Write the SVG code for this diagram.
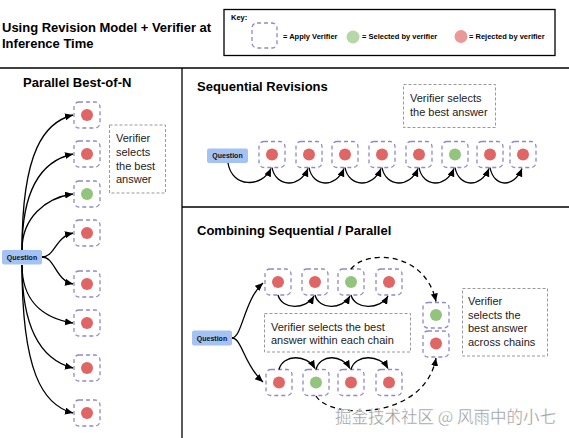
<svg xmlns="http://www.w3.org/2000/svg" width="569" height="438" viewBox="0 0 569 438">
<defs>
<marker id="ah" markerUnits="userSpaceOnUse" markerWidth="9" markerHeight="8" refX="8" refY="3.5" orient="auto">
<path d="M0,0 L8,3.5 L0,7 Z" fill="#000"/>
</marker>
<style>
.t{font-family:"Liberation Sans",Arial,sans-serif;fill:#000}
.h{font-size:13px;font-weight:bold}
.k{font-size:7.5px;font-weight:bold}
.n{font-size:11px;fill:#222}
.q{font-size:7px;font-weight:bold;fill:#111}
.vb{fill:none;stroke:#8f89c7;stroke-width:1.3;stroke-dasharray:4 3}
.note{fill:none;stroke:#999;stroke-width:1;stroke-dasharray:3 2}
.qb{fill:#a4c2f4}
.r{fill:#e06666}
.g{fill:#93c47d}
.sep{stroke:#000;stroke-width:1.3}
.c{fill:none;stroke:#000;stroke-width:1.3;marker-end:url(#ah)}
.d{fill:none;stroke:#000;stroke-width:1.3;stroke-dasharray:5 4;marker-end:url(#ah)}
</style>
</defs>
<rect width="569" height="438" fill="#fff"/>

<g id="title">
<text class="t h" x="2" y="31.5">Using Revision Model + Verifier at</text>
<text class="t h" x="2" y="47.5">Inference Time</text>
</g>

<g id="key">
<rect x="224" y="9.5" width="331" height="46" fill="none" stroke="#000" stroke-width="1.3"/>
<text class="t k" x="231" y="20">Key:</text>
<rect class="vb" x="252" y="23" width="25" height="25" rx="5"/>
<text class="t k" x="283" y="39">= Apply Verifier</text>
<circle cx="353" cy="37" r="6.5" fill="#b6d7a8"/>
<text class="t k" x="362" y="39">= Selected by verifier</text>
<circle cx="461" cy="36.5" r="6.5" fill="#ea9999"/>
<text class="t k" x="469" y="39">= Rejected by verifier</text>
</g>

<g id="separators">
<line class="sep" x1="0" y1="68" x2="569" y2="68"/>
<line class="sep" x1="182" y1="68" x2="182" y2="438"/>
<line class="sep" x1="182" y1="207" x2="569" y2="207"/>
</g>

<g id="parallel">
<text class="t h" x="23" y="87">Parallel Best-of-N</text>
<g id="p-question"><rect class="qb" x="2" y="250" width="40" height="14.5" rx="2"/><text class="t q" x="22" y="259.8" text-anchor="middle">Question</text></g>
<g id="p1"><rect class="vb" x="74" y="102" width="26" height="26" rx="5"/><circle class="r" cx="87" cy="115" r="6"/></g>
<g id="p2"><rect class="vb" x="74" y="141" width="26" height="26" rx="5"/><circle class="r" cx="87" cy="154" r="6"/></g>
<g id="p3"><rect class="vb" x="74" y="181" width="26" height="26" rx="5"/><circle class="g" cx="87" cy="194" r="6"/></g>
<g id="p4"><rect class="vb" x="74" y="220" width="26" height="26" rx="5"/><circle class="r" cx="87" cy="233" r="6"/></g>
<g id="p5"><rect class="vb" x="74" y="271" width="26" height="26" rx="5"/><circle class="r" cx="87" cy="284" r="6"/></g>
<g id="p6"><rect class="vb" x="74" y="310" width="26" height="26" rx="5"/><circle class="r" cx="87" cy="323" r="6"/></g>
<g id="p7"><rect class="vb" x="74" y="355" width="26" height="26" rx="5"/><circle class="r" cx="87" cy="368" r="6"/></g>
<g id="p8"><rect class="vb" x="74" y="400" width="26" height="26" rx="5"/><circle class="r" cx="87" cy="413" r="6"/></g>
<g id="p-note">
<rect class="note" x="109.5" y="125" width="56" height="68"/>
<text class="t n" x="116" y="142">Verifier</text>
<text class="t n" x="116" y="156">selects</text>
<text class="t n" x="116" y="170">the best</text>
<text class="t n" x="116" y="183">answer</text>
</g>
</g>

<g id="sequential">
<text class="t h" x="197" y="91">Sequential Revisions</text>
<g id="s-question"><rect class="qb" x="207" y="148.5" width="41" height="14.5" rx="2"/><text class="t q" x="227.5" y="158.3" text-anchor="middle">Question</text></g>
<g id="s1"><rect class="vb" x="259" y="141.5" width="26" height="26" rx="5"/><circle class="r" cx="272" cy="154.5" r="6"/></g>
<g id="s2"><rect class="vb" x="296" y="141.5" width="26" height="26" rx="5"/><circle class="r" cx="309" cy="154.5" r="6"/></g>
<g id="s3"><rect class="vb" x="332" y="141.5" width="26" height="26" rx="5"/><circle class="r" cx="345" cy="154.5" r="6"/></g>
<g id="s4"><rect class="vb" x="369" y="141.5" width="26" height="26" rx="5"/><circle class="r" cx="382" cy="154.5" r="6"/></g>
<g id="s5"><rect class="vb" x="406" y="141.5" width="26" height="26" rx="5"/><circle class="r" cx="419" cy="154.5" r="6"/></g>
<g id="s6"><rect class="vb" x="442" y="141.5" width="26" height="26" rx="5"/><circle class="g" cx="455" cy="154.5" r="6"/></g>
<g id="s7"><rect class="vb" x="477" y="141.5" width="26" height="26" rx="5"/><circle class="r" cx="490" cy="154.5" r="6"/></g>
<g id="s8"><rect class="vb" x="510" y="141.5" width="26" height="26" rx="5"/><circle class="r" cx="523" cy="154.5" r="6"/></g>
<g id="s-note">
<rect class="note" x="403.5" y="84.5" width="92" height="43"/>
<text class="t n" x="410" y="102">Verifier selects</text>
<text class="t n" x="410" y="116">the best answer</text>
</g>
</g>

<g id="combining">
<text class="t h" x="197" y="235">Combining Sequential / Parallel</text>
<g id="c-question"><rect class="qb" x="192" y="330.5" width="40" height="15" rx="2"/><text class="t q" x="212" y="340.5" text-anchor="middle">Question</text></g>
<g id="a1"><rect class="vb" x="265" y="269" width="26" height="26" rx="5"/><circle class="r" cx="278" cy="282" r="6"/></g>
<g id="a2"><rect class="vb" x="302" y="269" width="26" height="26" rx="5"/><circle class="r" cx="315" cy="282" r="6"/></g>
<g id="a3"><rect class="vb" x="338" y="269" width="26" height="26" rx="5"/><circle class="g" cx="351" cy="282" r="6"/></g>
<g id="a4"><rect class="vb" x="376" y="269" width="26" height="26" rx="5"/><circle class="r" cx="389" cy="282" r="6"/></g>
<g id="b1"><rect class="vb" x="266" y="369.5" width="26" height="26" rx="5"/><circle class="r" cx="279" cy="382.5" r="6"/></g>
<g id="b2"><rect class="vb" x="303" y="369.5" width="26" height="26" rx="5"/><circle class="g" cx="316" cy="382.5" r="6"/></g>
<g id="b3"><rect class="vb" x="338" y="369.5" width="26" height="26" rx="5"/><circle class="r" cx="351" cy="382.5" r="6"/></g>
<g id="b4"><rect class="vb" x="376" y="369.5" width="26" height="26" rx="5"/><circle class="r" cx="389" cy="382.5" r="6"/></g>
<g id="m1"><rect class="vb" x="423" y="302.5" width="26" height="25.5" rx="5"/><circle class="g" cx="436" cy="315" r="6"/></g>
<g id="m2"><rect class="vb" x="423" y="331" width="26" height="26" rx="5"/><circle class="r" cx="436" cy="343.5" r="6"/></g>
<g id="c-note1">
<rect class="note" x="264.5" y="313.5" width="146" height="38.5"/>
<text class="t n" x="271" y="331">Verifier selects the best</text>
<text class="t n" x="271" y="344">answer within each chain</text>
</g>
<g id="c-note2">
<rect class="note" x="462.5" y="288.5" width="85" height="67.5"/>
<text class="t n" x="468" y="305">Verifier</text>
<text class="t n" x="468" y="319">selects the</text>
<text class="t n" x="468" y="332">best answer</text>
<text class="t n" x="468" y="346">across chains</text>
</g>
</g>

<g id="connectors">
<path class="c" d="M22,250 C22,150 45,122 73,115"/>
<path class="c" d="M22,250 C22,185 45,160 73,154"/>
<path class="c" d="M22,250 C22,218 45,198 73,194"/>
<path class="c" d="M42,257 C55,257 55,237 73,233"/>
<path class="c" d="M42,257 C55,257 55,280 73,284"/>
<path class="c" d="M22,265 C22,300 42,318 73,323"/>
<path class="c" d="M22,265 C22,330 42,360 73,368"/>
<path class="c" d="M22,265 C22,370 42,405 73,413"/>

<path class="c" d="M228,163 C232,188 262,188 271,168.5"/>
<path class="c" d="M272,167.5 C276,188 300,188 308,168.5"/>
<path class="c" d="M309,167.5 C313,188 336,188 344,168.5"/>
<path class="c" d="M345,167.5 C349,188 373,188 381,168.5"/>
<path class="c" d="M382,167.5 C386,188 410,188 418,168.5"/>
<path class="c" d="M419,167.5 C423,188 446,188 454,168.5"/>
<path class="c" d="M455,167.5 C459,188 481,188 489,168.5"/>
<path class="c" d="M490,167.5 C494,188 514,188 522,168.5"/>

<path class="c" d="M232,338 C242,338 244,300 263,283"/>
<path class="c" d="M232,338 C242,338 244,365 263,382"/>
<path class="c" d="M278,295 C282,310 306,310 314,296"/>
<path class="c" d="M315,295 C319,310 342,310 350,296"/>
<path class="c" d="M351,295 C355,310 380,310 388,296"/>
<path class="c" d="M279,369.5 C283,354 307,354 315,368.5"/>
<path class="c" d="M316,369.5 C320,354 342,354 350,368.5"/>
<path class="c" d="M351,369.5 C355,354 380,354 388,368.5"/>
<path class="d" d="M351,269 C365,250 425,250 436,301.5"/>
<path class="d" d="M316,396 C330,420 425,420 436,358"/>
</g>

<text x="335" y="423" font-family="'Noto Sans CJK SC',sans-serif" font-size="16.5" fill="#9a9a9a" stroke="#fff" stroke-width="0.3">掘金技术社区 @ 风雨中的小七</text>
</svg>
